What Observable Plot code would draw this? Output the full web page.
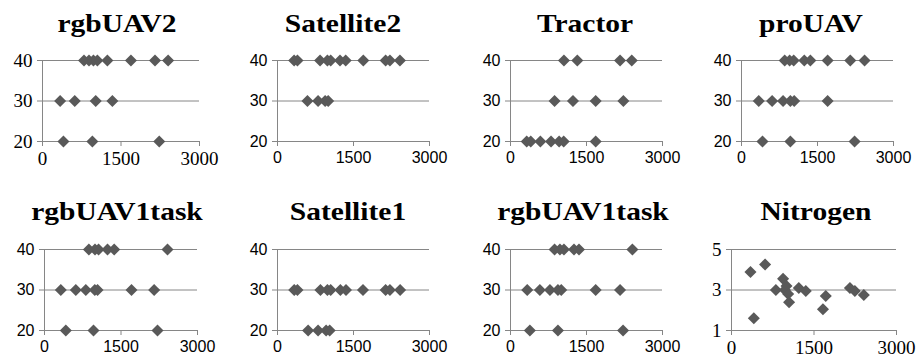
<!DOCTYPE html>
<html>
<head>
<meta charset="utf-8">
<script src="https://cdn.jsdelivr.net/npm/d3@7"></script>
<script src="https://cdn.jsdelivr.net/npm/@observablehq/plot@0.6"></script>
<style>
  html, body { margin: 0; padding: 0; background: #fff; }
  #fig { position: relative; width: 916px; height: 360px; overflow: hidden; background: #fff; }
  .panel { position: absolute; }
  .title { position: absolute; font-family: "Liberation Serif", "Times New Roman", serif; font-weight: bold;
           font-size: 25px; line-height: 25px; white-space: nowrap; color: #000; transform: translateX(-50%) scaleX(1.18); }
  .panel svg { overflow: visible; }
</style>
</head>
<body>
<div id="fig"></div>
<script>
// ---- data ----
const titles = ["rgbUAV2", "Satellite2", "Tractor", "proUAV", "rgbUAV1task", "Satellite1", "rgbUAV1task", "Nitrogen"];
const xTicks = [0, 1500, 3000];
const levelTicks = [20, 30, 40];
const nitrogenTicks = [1, 3, 5];

const rgbUAV2_x = [793, 889, 973, 1049, 1240, 1690, 2150, 2400, 337, 616, 1017, 1335, 400, 953, 2231];
const rgbUAV2_y = [40, 40, 40, 40, 40, 40, 40, 40, 30, 30, 30, 30, 20, 20, 20];

const satellite2_x = [328, 394, 840, 985, 1050, 1234, 1346, 1694, 2134, 2219, 2416, 591, 801, 940, 1000];
const satellite2_y = [40, 40, 40, 40, 40, 40, 40, 40, 40, 40, 40, 30, 30, 30, 30];

const tractor_x = [1055, 1319, 2162, 2393, 870, 1233, 1681, 2228, 320, 400, 590, 800, 960, 1050, 1681];
const tractor_y = [40, 40, 40, 40, 30, 30, 30, 30, 20, 20, 20, 20, 20, 20, 20];

const proUAV_x = [853, 950, 1030, 1240, 1359, 1700, 2147, 2429, 341, 604, 820, 965, 1040, 1700, 414, 965, 2232];
const proUAV_y = [40, 40, 40, 40, 40, 40, 40, 40, 30, 30, 30, 30, 30, 30, 20, 20, 20];

const rgbUAV1taskA_x = [870, 990, 1060, 1235, 1366, 2412, 320, 614, 810, 987, 1040, 1706, 2150, 418, 961, 2216];
const rgbUAV1taskA_y = [40, 40, 40, 40, 40, 40, 30, 30, 30, 30, 30, 30, 30, 20, 20, 20];

const satellite1_x = [330, 394, 847, 985, 1050, 1241, 1352, 1687, 2134, 2219, 2420, 604, 801, 960, 1030];
const satellite1_y = [30, 30, 30, 30, 30, 30, 30, 30, 30, 30, 30, 20, 20, 20, 20];

const rgbUAV1taskB_x = [870, 976, 1055, 1253, 1352, 2406, 330, 580, 778, 936, 1002, 1681, 2162, 382, 936, 2222];
const rgbUAV1taskB_y = [40, 40, 40, 40, 40, 40, 30, 30, 30, 30, 30, 30, 30, 20, 20, 20];

const nitrogen_x = [345, 611, 406, 807, 970, 938, 1047, 1224, 1351, 1714, 1663, 2153, 2243, 2406, 1000, 1030];
const nitrogen_y = [3.89, 4.26, 1.6, 3.0, 3.0, 3.55, 2.4, 3.1, 2.95, 2.7, 2.05, 3.1, 2.95, 2.75, 3.2, 2.8];

// ---- layout ----
const SERIF = "Liberation Serif, Times New Roman, serif";
const SANS = "Liberation Sans, Arial, sans-serif";
const panels = [
  {title: titles[0], xs: rgbUAV2_x, ys: rgbUAV2_y, ticks: levelTicks, serif: true, ax: 41.7, pw: 157, top: 45, tx: 117, ty: 11},
  {title: titles[1], xs: satellite2_x, ys: satellite2_y, ticks: levelTicks, serif: false, ax: 276.7, pw: 152, top: 45, tx: 343, ty: 11},
  {title: titles[2], xs: tractor_x, ys: tractor_y, ticks: levelTicks, serif: false, ax: 510, pw: 152, top: 45, tx: 585, ty: 11},
  {title: titles[3], xs: proUAV_x, ys: proUAV_y, ticks: levelTicks, serif: false, ax: 741, pw: 152, top: 45, tx: 811, ty: 11},
  {title: titles[4], xs: rgbUAV1taskA_x, ys: rgbUAV1taskA_y, ticks: levelTicks, serif: false, ax: 43.7, pw: 153, top: 234, tx: 117, ty: 199},
  {title: titles[5], xs: satellite1_x, ys: satellite1_y, ticks: levelTicks, serif: false, ax: 277, pw: 152, top: 234, tx: 348, ty: 199},
  {title: titles[6], xs: rgbUAV1taskB_x, ys: rgbUAV1taskB_y, ticks: levelTicks, serif: false, ax: 510, pw: 152, top: 234, tx: 583, ty: 199},
  {title: titles[7], xs: nitrogen_x, ys: nitrogen_y, ticks: nitrogenTicks, serif: true, ax: 731.3, pw: 165, top: 234, tx: 816, ty: 199}
];

const fig = document.getElementById("fig");
const ML = 36, MR = 16, MT = 15, MB = 30, H = 126;
const GRID = "#868686", MARK = "#595959";
const fmt = d => String(d);

for (const p of panels) {
  const data = p.xs.map((x, i) => ({x, y: p.ys[i]}));
  const yDomain = [p.ticks[0], p.ticks[p.ticks.length - 1]];
  const family = p.serif ? SERIF : SANS;
  const svg = Plot.plot({
    width: ML + p.pw + MR,
    height: H,
    marginLeft: ML, marginRight: MR, marginTop: MT, marginBottom: MB,
    style: {fontFamily: family, fontSize: "16px", color: "#000", background: "transparent", overflow: "visible"},
    x: {domain: [0, 3000], label: null},
    y: {domain: yDomain, label: null},
    marks: [
      Plot.ruleY(p.ticks, {stroke: GRID, strokeWidth: 1}),
      Plot.ruleX([0], {stroke: GRID, strokeWidth: 1}),
      Plot.axisX({ticks: xTicks, tickFormat: fmt, label: null, tickSize: 5, tickPadding: 5, stroke: GRID, fill: "#000", strokeWidth: 1}),
      Plot.axisY({ticks: p.ticks, tickFormat: fmt, label: null, tickSize: 5, tickPadding: 5, stroke: GRID, fill: "#000", strokeWidth: 1}),
      Plot.dot(data, {x: "x", y: "y", symbol: "square", rotate: 45, r: 4.8, fill: MARK, stroke: "none"})
    ]
  });
  svg.setAttribute("font-family", family);
  svg.setAttribute("font-size", "16");
  // Style each tick label directly; x labels are horizontally condensed in the reference.
  const sx = p.serif ? 0.875 : 0.79;
  svg.querySelectorAll("text").forEach(t => {
    const isX = t.getAttribute("text-anchor") === "middle" || (t.parentNode && t.parentNode.getAttribute("text-anchor") === "middle");
    t.setAttribute("font-family", family);
    t.style.fontFamily = family;
    if (isX) {
      t.style.fontSize = "16px";
      const tr = t.getAttribute("transform") || "";
      const x = +(t.getAttribute("x") || 0);
      t.setAttribute("transform", `${tr} translate(${x},0) scale(${sx},1) translate(${-x},0)`);
    } else {
      t.style.fontSize = p.serif ? "19px" : "16px";
    }
  });
  const div = document.createElement("div");
  div.className = "panel";
  div.style.left = (p.ax - ML) + "px";
  div.style.top = p.top + "px";
  div.appendChild(svg);
  fig.appendChild(div);

  const t = document.createElement("div");
  t.className = "title";
  t.textContent = p.title;
  t.style.left = p.tx + "px";
  t.style.top = p.ty + "px";
  fig.appendChild(t);
}
</script>
</body>
</html>
